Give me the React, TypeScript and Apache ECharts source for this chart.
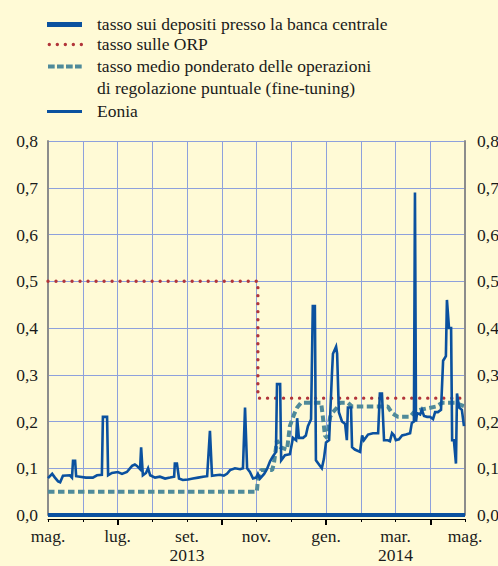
import React, { useEffect, useRef } from 'react';
import * as echarts from 'echarts';

// X positions are expressed in months: 0 = mag. 2013, 12 = mag. 2014
const monthKeys = ['2013-05', '2013-06', '2013-07', '2013-08', '2013-09', '2013-10', '2013-11', '2013-12', '2014-01', '2014-02', '2014-03', '2014-04', '2014-05'];
const monthLabels = ['mag.', 'giu.', 'lug.', 'ago.', 'set.', 'ott.', 'nov.', 'dic.', 'gen.', 'feb.', 'mar.', 'apr.', 'mag.'];
const yearLabels: Record<number, string> = { 4: '2013', 10: '2014' };

const legendLabels = [
  'tasso sui depositi presso la banca centrale',
  'tasso sulle ORP',
  'tasso medio ponderato delle operazioni\ndi regolazione puntuale (fine-tuning)',
  'Eonia',
];

const depositRate: [number, number][] = [[0, 0], [12, 0]];

const orpRate: [number, number][] = [[0, 0.5], [6.04, 0.5], [6.04, 0.25], [12, 0.25]];

const fineTuningRate: [number, number][] = [
  [0, 0.05], [6.01, 0.05], [6.04, 0.075], [6.13, 0.096], [6.45, 0.096], [6.5, 0.11],
  [6.59, 0.16], [6.68, 0.145], [6.88, 0.14], [6.96, 0.19], [7.08, 0.215], [7.17, 0.23],
  [7.28, 0.24], [7.86, 0.24], [7.91, 0.21], [7.97, 0.17], [8.03, 0.165], [8.12, 0.21],
  [8.2, 0.22], [8.32, 0.23], [8.4, 0.24], [8.63, 0.24], [8.75, 0.232], [9.78, 0.232],
  [9.9, 0.218], [10.07, 0.21], [10.42, 0.21], [10.53, 0.22], [10.71, 0.225], [11.17, 0.232],
  [11.34, 0.24], [11.71, 0.24], [12, 0.232],
];

const eonia: [number, number][] = [
  [0, 0.079], [0.12, 0.088], [0.2, 0.08], [0.29, 0.072], [0.35, 0.07], [0.43, 0.084],
  [0.63, 0.085], [0.69, 0.08], [0.72, 0.116], [0.78, 0.116], [0.81, 0.083], [0.92, 0.082],
  [1.09, 0.08], [1.29, 0.08], [1.41, 0.085], [1.55, 0.086], [1.58, 0.21], [1.7, 0.21],
  [1.73, 0.085], [1.84, 0.09], [2.01, 0.092], [2.13, 0.088], [2.27, 0.092], [2.42, 0.105],
  [2.5, 0.108], [2.56, 0.105], [2.65, 0.098], [2.68, 0.145], [2.73, 0.085], [2.82, 0.09],
  [2.88, 0.1], [2.94, 0.085], [3.08, 0.08], [3.22, 0.082], [3.37, 0.078], [3.51, 0.08],
  [3.63, 0.082], [3.65, 0.11], [3.71, 0.11], [3.77, 0.078], [3.88, 0.075], [4.03, 0.076],
  [4.17, 0.078], [4.32, 0.08], [4.46, 0.082], [4.58, 0.083], [4.66, 0.18], [4.72, 0.084],
  [4.83, 0.085], [4.95, 0.086], [5.06, 0.084], [5.15, 0.088], [5.24, 0.096], [5.38, 0.1],
  [5.53, 0.098], [5.61, 0.1], [5.67, 0.23], [5.73, 0.1], [5.81, 0.092], [5.9, 0.078],
  [5.99, 0.08], [6.04, 0.088], [6.1, 0.078], [6.22, 0.088], [6.3, 0.098], [6.39, 0.115],
  [6.47, 0.125], [6.56, 0.135], [6.59, 0.28], [6.68, 0.28], [6.71, 0.117], [6.82, 0.128],
  [6.96, 0.13], [7.05, 0.165], [7.14, 0.16], [7.17, 0.207], [7.22, 0.165], [7.34, 0.165],
  [7.42, 0.17], [7.48, 0.19], [7.57, 0.205], [7.62, 0.447], [7.68, 0.447], [7.71, 0.117],
  [7.83, 0.105], [7.88, 0.1], [7.94, 0.12], [8.0, 0.155], [8.09, 0.16], [8.17, 0.3],
  [8.2, 0.345], [8.29, 0.36], [8.32, 0.345], [8.37, 0.22], [8.46, 0.2], [8.55, 0.195],
  [8.6, 0.16], [8.63, 0.23], [8.72, 0.23], [8.75, 0.145], [8.83, 0.14], [8.98, 0.135],
  [9.04, 0.17], [9.09, 0.16], [9.21, 0.172], [9.35, 0.175], [9.5, 0.175], [9.55, 0.26],
  [9.61, 0.26], [9.67, 0.16], [9.78, 0.16], [9.84, 0.158], [9.9, 0.175], [9.96, 0.17],
  [10.01, 0.16], [10.1, 0.162], [10.19, 0.17], [10.3, 0.172], [10.42, 0.175], [10.47, 0.197],
  [10.53, 0.2], [10.56, 0.69], [10.59, 0.2], [10.62, 0.218], [10.71, 0.215], [10.76, 0.225],
  [10.82, 0.212], [10.91, 0.21], [10.99, 0.21], [11.08, 0.205], [11.14, 0.22], [11.22, 0.22],
  [11.31, 0.225], [11.37, 0.33], [11.45, 0.34], [11.48, 0.46], [11.54, 0.4], [11.6, 0.4],
  [11.63, 0.16], [11.68, 0.16], [11.74, 0.11], [11.77, 0.26], [11.83, 0.23], [11.91, 0.225],
  [11.97, 0.19],
];

const BG = '#fffad6';
const BLUE = '#0b519f';
const RED = '#b2353a';
const TEAL = '#4f8a9a';
const GRID = '#8ea0dc';
const AXIS_GRAY = '#8c8c8c';
const TEXT = '#1a1a1a';
const FONT = 'Liberation Serif';
const FS = 17.5;

export default function App() {
  const ref = useRef<HTMLDivElement>(null);
  useEffect(() => {
    if (!ref.current) return;
    const chart = echarts.init(ref.current, undefined, { renderer: 'svg' });
    const fmtY = (v: number) => v.toFixed(1).replace('.', ',');
    const catAxisBase = {
      type: 'category' as const,
      data: monthKeys,
      boundaryGap: false,
      position: 'bottom' as const,
      offset: 4,
      gridIndex: 0,
    };
    const legendRows = [
      { y: 24.5, kind: 'deposit' },
      { y: 44.5, kind: 'orp' },
      { y: 66.5, kind: 'ft' },
      { y: 111.5, kind: 'eonia' },
    ];
    const textYs = [24.5, 44.5, 66.5, 111.5];
    const graphic: any[] = [];
    legendRows.forEach((r) => {
      if (r.kind === 'deposit') {
        graphic.push({ type: 'line', shape: { x1: 47, y1: r.y, x2: 82, y2: r.y }, style: { stroke: BLUE, lineWidth: 5 } });
      } else if (r.kind === 'orp') {
        graphic.push({ type: 'line', shape: { x1: 49.3, y1: r.y, x2: 81.6, y2: r.y }, style: { stroke: RED, lineWidth: 3.4, lineDash: [0.01, 8], lineCap: 'round' } });
      } else if (r.kind === 'ft') {
        graphic.push({ type: 'line', shape: { x1: 48, y1: r.y, x2: 82, y2: r.y }, style: { stroke: TEAL, lineWidth: 4, lineDash: [6.7, 2.3] } });
      } else {
        graphic.push({ type: 'line', shape: { x1: 47, y1: r.y, x2: 82, y2: r.y }, style: { stroke: BLUE, lineWidth: 3 } });
      }
    });
    legendLabels.forEach((t, i) => {
      graphic.push({
        type: 'text',
        x: 97,
        y: textYs[i] - 0.5,
        style: {
          text: t,
          fill: TEXT,
          fontSize: FS,
          fontFamily: FONT,
          verticalAlign: 'middle',
          lineHeight: 21.5,
        },
      });
    });
    // two-line legend item: first line aligned with its symbol
    graphic[6].style.verticalAlign = 'top';
    graphic[6].y = 66.5 - 10.75 - 0.5;

    const option: any = {
      animation: false,
      backgroundColor: BG,
      grid: { left: 48, right: 33, top: 141, bottom: 51, containLabel: false, outerBoundsMode: 'none' },
      xAxis: [
        { type: 'value', min: 0, max: 12, show: false, gridIndex: 0 },
        {
          ...catAxisBase,
          axisLine: { show: true, onZero: false, lineStyle: { color: '#000', width: 1 } },
          axisTick: { show: true, interval: 0, length: 3, lineStyle: { color: '#000', width: 1 } },
          axisLabel: {
            show: true,
            interval: (idx: number) => idx % 2 === 0,
            formatter: (_v: string, idx: number) => monthLabels[idx],
            color: TEXT,
            fontSize: FS,
            fontFamily: FONT,
            margin: 8,
            showMinLabel: true,
            showMaxLabel: true,
          },
          splitLine: { show: true, interval: 0, lineStyle: { color: GRID, width: 1 } },
        },
        {
          ...catAxisBase,
          axisLine: { show: false, onZero: false },
          axisTick: { show: true, interval: (idx: number) => idx % 3 === 2, length: 6, lineStyle: { color: '#000', width: 2 } },
          axisLabel: { show: false },
          splitLine: { show: false },
        },
        {
          ...catAxisBase,
          axisLine: { show: false, onZero: false },
          axisTick: { show: false },
          axisLabel: {
            show: true,
            interval: 0,
            formatter: (_v: string, idx: number) => yearLabels[idx] || '',
            color: TEXT,
            fontSize: FS,
            fontFamily: FONT,
            margin: 27,
            lineHeight: 17,
          },
          splitLine: { show: false },
        },
      ],
      yAxis: [
        {
          type: 'value', position: 'left', min: 0, max: 0.8, interval: 0.1,
          axisLine: { show: true, onZero: false, lineStyle: { color: AXIS_GRAY, width: 2 } },
          axisTick: { show: false },
          axisLabel: { formatter: fmtY, color: TEXT, fontSize: FS, fontFamily: FONT, margin: 10 },
          splitLine: { show: true, lineStyle: { color: GRID, width: 1 } },
        },
        {
          type: 'value', position: 'right', min: 0, max: 0.8, interval: 0.1,
          axisLine: { show: true, onZero: false, lineStyle: { color: AXIS_GRAY, width: 2 } },
          axisTick: { show: false },
          axisLabel: { formatter: fmtY, color: TEXT, fontSize: FS, fontFamily: FONT, margin: 12 },
          splitLine: { show: false },
        },
      ],
      graphic,
      series: [
        {
          name: legendLabels[0], type: 'line', xAxisIndex: 0, yAxisIndex: 0, data: depositRate,
          showSymbol: false, symbol: 'none', clip: false,
          lineStyle: { color: BLUE, width: 4 },
        },
        {
          name: legendLabels[1], type: 'line', xAxisIndex: 0, yAxisIndex: 0, data: orpRate,
          showSymbol: false, symbol: 'none', clip: false,
          lineStyle: { color: RED, width: 3.4, type: [0.01, 8], cap: 'round' },
        },
        {
          name: legendLabels[2], type: 'line', xAxisIndex: 0, yAxisIndex: 0, data: fineTuningRate,
          showSymbol: false, symbol: 'none', clip: false,
          lineStyle: { color: TEAL, width: 4, type: [6.5, 3.5] },
        },
        {
          name: legendLabels[3], type: 'line', xAxisIndex: 0, yAxisIndex: 0, data: eonia,
          showSymbol: false, symbol: 'none', clip: false,
          lineStyle: { color: BLUE, width: 2.6, join: 'miter' },
        },
      ],
    };
    chart.setOption(option);
    return () => chart.dispose();
  }, []);
  return (
    <div
      ref={ref}
      style={{ position: 'fixed', left: 0, top: 0, width: 498, height: 566, background: BG }}
    />
  );
}
